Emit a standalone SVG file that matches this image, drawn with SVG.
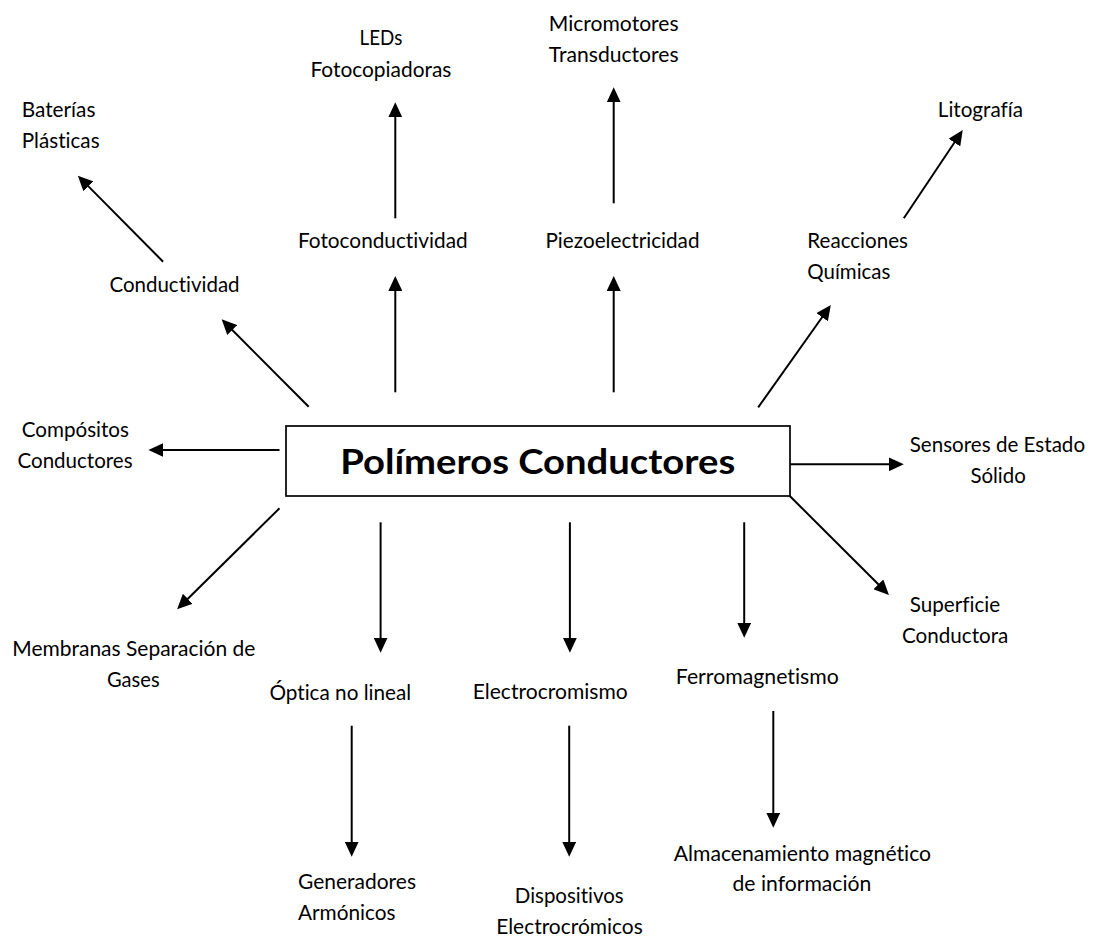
<svg xmlns="http://www.w3.org/2000/svg" width="1096" height="945" viewBox="0 0 1096 945">
<style>
text{font-family:Lato,"Carlito","Liberation Sans",sans-serif;font-size:20.5px;fill:#000;font-variant-ligatures:none;font-feature-settings:"liga" 0,"clig" 0}
.title{font-weight:bold;font-size:34px}
.c{stroke:#000;stroke-width:2;fill:none}
</style>
<defs>
<marker id="ah" markerUnits="userSpaceOnUse" markerWidth="15" markerHeight="14" refX="7" refY="7" orient="auto">
<path d="M0,0 L15,7 L0,14 z" fill="#000"/>
</marker>
</defs>
<rect width="1096" height="945" fill="#fff"/>
<g id="connectors" class="c" marker-end="url(#ah)">
<path class="c" marker-end="url(#ah)" d="M163.1,261.7 L83.5,181.4"/>
<path class="c" marker-end="url(#ah)" d="M395.3,218.3 L395.3,110.3"/>
<path class="c" marker-end="url(#ah)" d="M613.7,203.3 L613.7,95.3"/>
<path class="c" marker-end="url(#ah)" d="M903.8,218.3 L958.3,136.7"/>
<path class="c" marker-end="url(#ah)" d="M308.7,406.7 L227.3,325"/>
<path class="c" marker-end="url(#ah)" d="M395.3,392.3 L395.3,284"/>
<path class="c" marker-end="url(#ah)" d="M613.7,392.3 L613.7,284"/>
<path class="c" marker-end="url(#ah)" d="M758.2,407.3 L826.2,311.5"/>
<path class="c" marker-end="url(#ah)" d="M279.5,450 L156.4,450"/>
<path class="c" marker-end="url(#ah)" d="M787.3,464.3 L895.8,464.3"/>
<path class="c" marker-end="url(#ah)" d="M789.8,496 L883.3,589.3"/>
<path class="c" marker-end="url(#ah)" d="M279.5,508.3 L182.8,603.7"/>
<path class="c" marker-end="url(#ah)" d="M380.6,522.3 L380.6,644.7"/>
<path class="c" marker-end="url(#ah)" d="M569.9,522.3 L569.9,644.7"/>
<path class="c" marker-end="url(#ah)" d="M744.2,522.3 L744.2,629.7"/>
<path class="c" marker-end="url(#ah)" d="M351.7,725.7 L351.7,848.7"/>
<path class="c" marker-end="url(#ah)" d="M569.2,725.7 L569.2,848.7"/>
<path class="c" marker-end="url(#ah)" d="M773.3,711 L773.3,819.7"/>
</g>
<g id="n-main">
<rect x="286" y="426" width="504" height="70" fill="#fff" stroke="#000" stroke-width="1.7"/>
<text class="title" x="340.2" y="474" textLength="395" lengthAdjust="spacingAndGlyphs">Polímeros Conductores</text>
</g>
<g id="n-baterias">
<text x="21.7" y="117.3" textLength="73.7" lengthAdjust="spacingAndGlyphs">Baterías</text>
<text x="21.7" y="148.3" textLength="77.9" lengthAdjust="spacingAndGlyphs">Plásticas</text>
</g>
<g id="n-leds">
<text x="359.5" y="45" textLength="42.8" lengthAdjust="spacingAndGlyphs">LEDs</text>
<text x="310.4" y="76.7" textLength="141" lengthAdjust="spacingAndGlyphs">Fotocopiadoras</text>
</g>
<g id="n-micromotores">
<text x="548.8" y="30.7" textLength="129.8" lengthAdjust="spacingAndGlyphs">Micromotores</text>
<text x="548.8" y="62.3" textLength="129.8" lengthAdjust="spacingAndGlyphs">Transductores</text>
</g>
<g id="n-litografia">
<text x="937.8" y="117.3" textLength="85.2" lengthAdjust="spacingAndGlyphs">Litografía</text>
</g>
<g id="n-fotoconductividad">
<text x="298" y="248.3" textLength="169.6" lengthAdjust="spacingAndGlyphs">Fotoconductividad</text>
</g>
<g id="n-piezo">
<text x="545.5" y="248.3" textLength="154" lengthAdjust="spacingAndGlyphs">Piezoelectricidad</text>
</g>
<g id="n-reacciones">
<text x="807.3" y="248.3" textLength="100.7" lengthAdjust="spacingAndGlyphs">Reacciones</text>
<text x="807.3" y="279.3" textLength="83.1" lengthAdjust="spacingAndGlyphs">Químicas</text>
</g>
<g id="n-conductividad">
<text x="109.4" y="292.3" textLength="130.2" lengthAdjust="spacingAndGlyphs">Conductividad</text>
</g>
<g id="n-compositos">
<text x="21.7" y="436.7" textLength="107.3" lengthAdjust="spacingAndGlyphs">Compósitos</text>
<text x="17.5" y="468.3" textLength="115.1" lengthAdjust="spacingAndGlyphs">Conductores</text>
</g>
<g id="n-sensores">
<text x="909.7" y="451.7" textLength="175.4" lengthAdjust="spacingAndGlyphs">Sensores de Estado</text>
<text x="970.4" y="482.7" textLength="55.4" lengthAdjust="spacingAndGlyphs">Sólido</text>
</g>
<g id="n-superficie">
<text x="909.7" y="611.7" textLength="90.5" lengthAdjust="spacingAndGlyphs">Superficie</text>
<text x="902" y="643.3" textLength="106.3" lengthAdjust="spacingAndGlyphs">Conductora</text>
</g>
<g id="n-membranas">
<text x="12.3" y="656" textLength="243" lengthAdjust="spacingAndGlyphs">Membranas Separación de</text>
<text x="107" y="686.7" textLength="52.6" lengthAdjust="spacingAndGlyphs">Gases</text>
</g>
<g id="n-optica">
<text x="269.4" y="700" textLength="141.8" lengthAdjust="spacingAndGlyphs">Óptica no lineal</text>
</g>
<g id="n-electrocromismo">
<text x="472.7" y="699.3" textLength="155" lengthAdjust="spacingAndGlyphs">Electrocromismo</text>
</g>
<g id="n-ferro">
<text x="675.8" y="684.3" textLength="163" lengthAdjust="spacingAndGlyphs">Ferromagnetismo</text>
</g>
<g id="n-generadores">
<text x="298" y="889.3" textLength="118" lengthAdjust="spacingAndGlyphs">Generadores</text>
<text x="298" y="920" textLength="97.6" lengthAdjust="spacingAndGlyphs">Armónicos</text>
</g>
<g id="n-dispositivos">
<text x="514.8" y="903.3" textLength="108.8" lengthAdjust="spacingAndGlyphs">Dispositivos</text>
<text x="496.2" y="934.3" textLength="146.6" lengthAdjust="spacingAndGlyphs">Electrocrómicos</text>
</g>
<g id="n-almacenamiento">
<text x="673.7" y="861" textLength="257.4" lengthAdjust="spacingAndGlyphs">Almacenamiento magnético</text>
<text x="732.5" y="891" textLength="138.8" lengthAdjust="spacingAndGlyphs">de información</text>
</g>
</svg>
